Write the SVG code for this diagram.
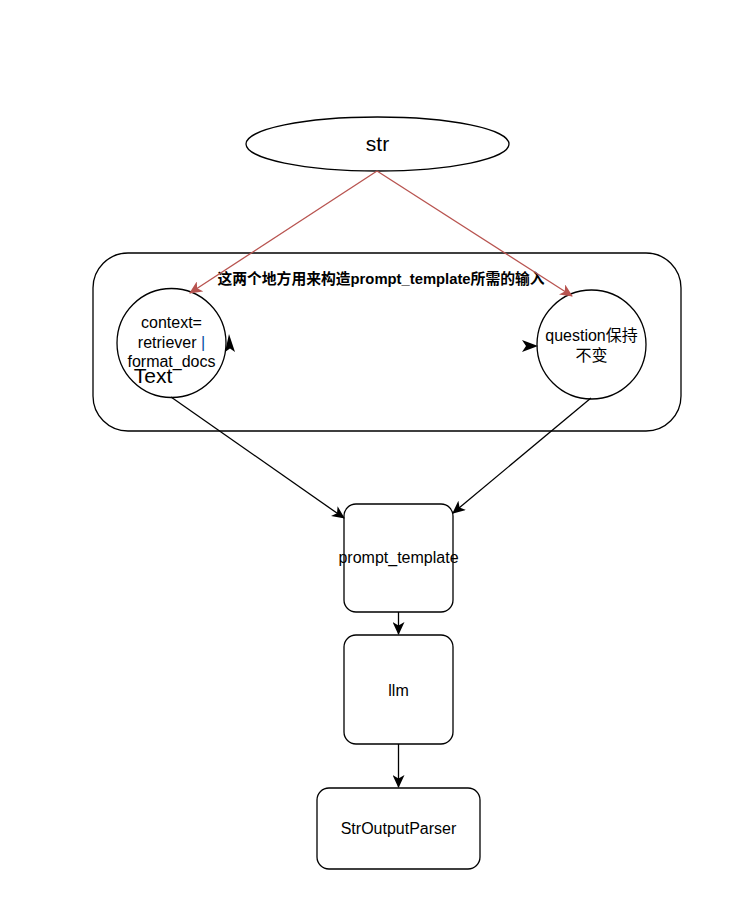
<svg xmlns="http://www.w3.org/2000/svg" width="743" height="918" viewBox="0 0 743 918">
<style>
.s{fill:#fff;stroke:#000;stroke-width:1.3}
.t{font-family:"Liberation Sans","Noto Sans CJK SC",sans-serif;font-size:16px;fill:#000;text-anchor:middle;dominant-baseline:central}
.e{fill:none;stroke:#000;stroke-width:1.3}
.r{fill:none;stroke:#b85450;stroke-width:1.3}
</style>
<defs>
<marker id="ab" markerWidth="14" markerHeight="12" refX="12" refY="6" orient="auto" markerUnits="userSpaceOnUse" viewBox="0 0 14 12"><path d="M0,0 L13,6 L0,12 L3.5,6 Z" fill="#000"/></marker>
<marker id="ar" markerWidth="14" markerHeight="12" refX="12" refY="6" orient="auto" markerUnits="userSpaceOnUse" viewBox="0 0 14 12"><path d="M0,0 L13,6 L0,12 L3.5,6 Z" fill="#b85450"/></marker>
</defs>
<rect width="743" height="918" fill="#fff"/>
<g id="group">
<rect x="93" y="253" width="588" height="178" rx="35" class="s"/>
<text x="381" y="279" class="t" style="font-weight:bold;font-size:14.8px">这两个地方用来构造prompt_template所需的输入</text>
</g>
<g id="str">
<ellipse cx="377.5" cy="144" rx="131.5" ry="27" class="s"/>
<text x="377.5" y="143" class="t" style="font-size:21px">str</text>
</g>
<g id="context">
<circle cx="171.5" cy="343" r="54.5" class="s"/>
<text x="171.5" y="322" class="t">context=</text>
<text x="171.5" y="342" class="t">retriever <tspan fill="#0050a0">|</tspan></text>
<text x="171.5" y="361" class="t">format_docs</text>
</g>
<g id="question">
<circle cx="591.5" cy="344.5" r="54.5" class="s"/>
<text x="591.5" y="335" class="t">question保持</text>
<text x="591.5" y="355" class="t">不变</text>
</g>
<g id="textlabel">
<text x="153" y="375" class="t" style="font-size:21px">Text</text>
</g>
<g id="prompt_template">
<rect x="344" y="504" width="109" height="108" rx="12" class="s"/>
<text x="398.5" y="557" class="t">prompt_template</text>
</g>
<g id="llm">
<rect x="344" y="635" width="109" height="109" rx="12" class="s"/>
<text x="398.5" y="690" class="t">llm</text>
</g>
<g id="StrOutputParser">
<rect x="317" y="788" width="163" height="81" rx="12" class="s"/>
<text x="398.5" y="828.5" class="t">StrOutputParser</text>
</g>
<g id="connectors">
<line x1="377" y1="171" x2="190" y2="293" class="r" marker-end="url(#ar)"/>
<line x1="377" y1="171" x2="572" y2="296" class="r" marker-end="url(#ar)"/>
<line x1="171" y1="397" x2="344" y2="518" class="e" marker-end="url(#ab)"/>
<line x1="591" y1="398" x2="453" y2="513" class="e" marker-end="url(#ab)"/>
<line x1="398.5" y1="612" x2="398.5" y2="634" class="e" marker-end="url(#ab)"/>
<line x1="398.5" y1="744" x2="398.5" y2="787" class="e" marker-end="url(#ab)"/>
<path d="M229,334 L235,352 L230,348.5 L225,352 Z" fill="#000"/>
<path d="M538,346 L522,340 L526,346 L522,352 Z" fill="#000"/>
</g>
</svg>
